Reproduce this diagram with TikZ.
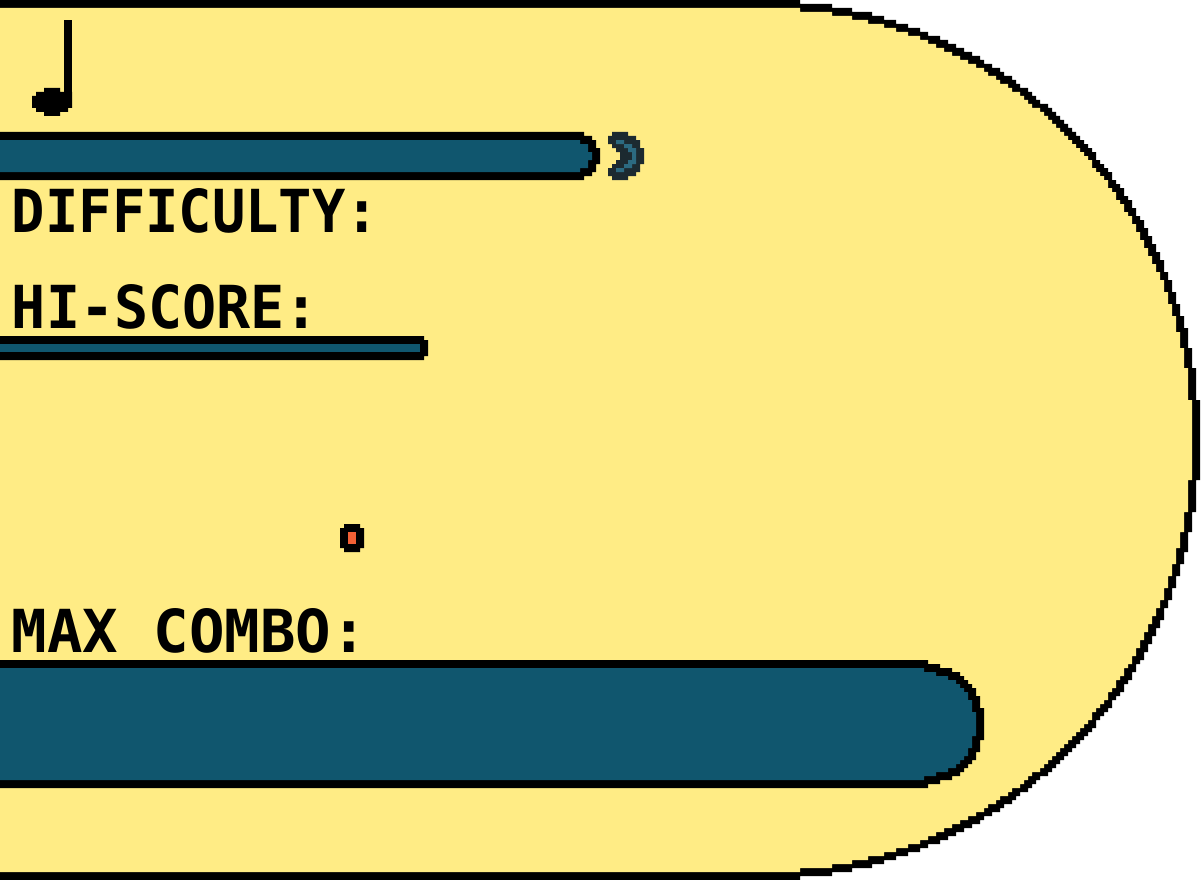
\documentclass[tikz,border=0pt]{standalone}
\usepackage{fontspec}
\usepackage{graphicx}
\setmainfont{DejaVu Sans Mono}[BoldFont={DejaVu Sans Mono Bold}]
\definecolor{panel}{HTML}{FFEC85}
\definecolor{teal}{HTML}{10566E}
\definecolor{tealb}{HTML}{2C6A80}
\definecolor{chev}{HTML}{1C2A30}
\definecolor{dot}{HTML}{F26035}
\newcommand{\fitlabel}[2]{\resizebox{#1pt}{44pt}{\fontsize{60pt}{60pt}\selectfont\bfseries #2}}
\tikzset{
  label text/.style={anchor=north west,inner sep=0pt,outer sep=0pt},
}
\begin{document}
\begin{tikzpicture}[x=1pt,y=-1pt]
\useasboundingbox (0,0) rectangle (1204,880);
% panel: outline and interior, stepped on a 4-pixel grid
\fill[black] (0,0) foreach \yy [evaluate=\yy as \xx using {4*round((7.60+sqrt(19.36-((\yy-438)/100)*((\yy-438)/100)))*25)}] in {0,4,...,876} {-- (\xx,\yy) -- (\xx,\yy+4)} -- (0,880) -- cycle;
\fill[panel] (0,8) foreach \yy [evaluate=\yy as \xx using {4*round((7.60+sqrt(18.6624-((\yy-438)/100)*((\yy-438)/100)))*25)}] in {8,12,...,868} {-- (\xx,\yy) -- (\xx,\yy+4)} -- (0,872) -- cycle;
% note
\fill[black] (64,20) rectangle (72,108);
\fill[black] (44,88) -| (60,92) -| (72,108) -| (68,112) -| (60,116) -| (44,112) -| (36,108) -| (32,96) -| (36,92) -| (44,88) -- cycle;
% top bar
\fill[black] (0,132) -| (584,136) -| (592,140) -| (596,148) -| (600,164) -| (596,172) -| (592,176) -| (584,180) -- (0,180) -- cycle;
\fill[teal] (0,140) -| (580,144) -| (588,152) -| (592,160) -| (588,168) -| (580,172) -- (0,172) -- cycle;
% chevron
\fill[chev] (612,132) -| (628,136) -| (636,140) -| (640,148) -| (644,164) -| (640,172) -| (636,176) -| (628,180) -| (612,176) -| (608,168) -| (612,164) -| (616,160) -| (620,152) -| (616,148) -| (612,144) -| (608,136) -| (612,132) -- cycle;
\fill[tealb] (616,140) -| (624,144) -| (632,148) -| (636,164) -| (632,168) -| (624,172) -| (616,168) -| (624,164) -| (628,160) -| (632,152) -| (628,148) -| (624,144) -| (616,140) -- cycle;
% labels
\node[label text] (difficulty) at (12,188) {\fitlabel{367}{DIFFICULTY:}};
\node[label text] (hiscore) at (12,284) {\fitlabel{307}{HI-SCORE:}};
\node[label text] (maxcombo) at (12,608) {\fitlabel{355}{MAX COMBO:}};
% thin bar
\fill[black] (0,336) -| (424,340) -| (428,356) -| (424,360) -- (0,360) -- cycle;
\fill[teal] (0,344) rectangle (420,352);
% red dot
\fill[black] (344,524) -| (360,528) -| (364,548) -| (360,552) -| (344,548) -| (340,528) -| (344,524) -- cycle;
\fill[dot] (348,532) rectangle (356,544);
% big bar
\fill[black] (0,660) -| (928,664) -| (940,668) -| (952,672) -| (960,676) -| (964,680) -| (968,684) -| (972,688) -| (976,696) -| (980,708) -| (984,740) -| (980,752) -| (976,760) -| (972,764) -| (968,768) -| (964,772) -| (960,776) -| (952,780) -| (940,784) -| (928,788) -- (0,788) -- cycle;
\fill[teal] (0,668) -| (924,672) -| (936,676) -| (948,680) -| (956,684) -| (960,688) -| (964,692) -| (968,700) -| (972,712) -| (976,736) -| (972,748) -| (968,756) -| (964,760) -| (960,764) -| (956,768) -| (948,772) -| (936,776) -| (924,780) -- (0,780) -- cycle;
\end{tikzpicture}
\end{document}
